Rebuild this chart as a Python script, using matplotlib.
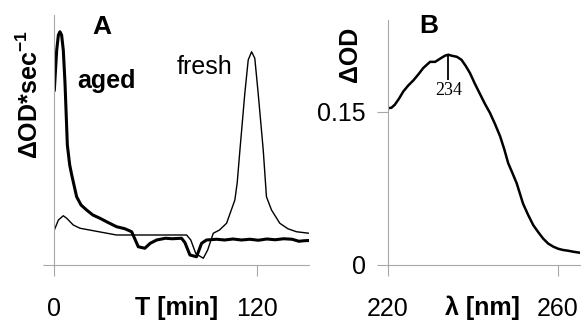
import matplotlib
matplotlib.use("Agg")
import matplotlib.pyplot as plt
import numpy as np

plt.rcParams['font.family'] = ['Liberation Sans', 'DejaVu Sans']
plt.rcParams['mathtext.default'] = 'regular'

# panel A: rate traces vs time (arbitrary units, axis top = 1)
t_aged = [0.2, 1.6, 2.6, 3.5, 4.5, 5.5, 6.5, 7.9, 9.3, 10.5, 13.4, 16, 19.3, 23, 27.2, 32, 37.1,
          42, 46.0, 49.9, 53.8, 57, 60.8, 66, 70, 75.5, 77.5, 80.5, 84.4, 87.4, 90.3, 96.3,
          101, 106, 111, 116, 121, 126, 131, 136, 141, 145, 148, 151]
v_aged = [0.70, 0.86, 0.92, 0.933, 0.92, 0.86, 0.73, 0.48, 0.40, 0.36, 0.273, 0.24, 0.22, 0.20,
          0.187, 0.17, 0.153, 0.145, 0.133, 0.073, 0.067, 0.087, 0.10, 0.107, 0.105, 0.107, 0.09,
          0.04, 0.033, 0.087, 0.10, 0.103, 0.100, 0.104, 0.100, 0.103, 0.099, 0.104,
          0.101, 0.105, 0.103, 0.095, 0.097, 0.098]

t_fresh = [0.2, 2.6, 5.5, 7.5, 11.4, 15.4, 25, 37, 41, 46.9, 60, 75, 78.5, 81, 84, 88.4, 91,
           94.3, 98, 102.2, 107.1, 108.5, 110.1, 113.0, 115.0, 117.0, 118.9, 120.9, 123.9, 125.8,
           128.8, 133.7, 138.5, 143.6, 151]
v_fresh = [0.14, 0.18, 0.197, 0.187, 0.16, 0.147, 0.135, 0.12, 0.12, 0.12, 0.12, 0.12, 0.12,
           0.10, 0.045, 0.027, 0.06, 0.127, 0.14, 0.167, 0.26, 0.33, 0.46, 0.687, 0.82, 0.853,
           0.827, 0.687, 0.46, 0.273, 0.22, 0.167, 0.145, 0.133, 0.127]

# panel B: difference spectrum
wl = [219.9, 220.8, 221.6, 222.6, 223.6, 224.8, 226.0, 227.2, 228.3, 229.9, 231.1, 232.6, 233.4,
      234.2, 235.0, 236.2, 237.3, 238.3, 239.3, 240.4, 241.6, 242.8, 244.0, 245.2, 246.4, 247.4,
      248.3, 249.3, 250.3, 251.8, 253.0, 254.2, 255.4, 256.5, 257.7, 258.9, 260.0, 261.2, 262.4,
      263.6, 265.2]
od = [0.1536, 0.154, 0.157, 0.163, 0.170, 0.176, 0.181, 0.187, 0.193, 0.199, 0.199, 0.203, 0.205,
      0.206, 0.205, 0.204, 0.201, 0.195, 0.188, 0.178, 0.168, 0.158, 0.149, 0.138, 0.126, 0.113,
      0.0997, 0.090, 0.080, 0.060, 0.049, 0.039, 0.032, 0.026, 0.021, 0.018, 0.016, 0.0147,
      0.014, 0.013, 0.012]

fig = plt.figure(figsize=(5.81, 3.22), dpi=100)
W, H = 581, 322
axA = fig.add_axes([54 / W, (H - 265) / H, (309 - 54) / W, 250 / H])
axB = fig.add_axes([388 / W, (H - 265) / H, (580 - 388) / W, 245 / H])

grey = '#a8a8a8'
for ax in (axA, axB):
    for s in ('top', 'right'):
        ax.spines[s].set_visible(False)
    for s in ('left', 'bottom'):
        ax.spines[s].set_color(grey)
        ax.spines[s].set_linewidth(0.8)
    ax.tick_params(direction='out', length=8, width=0.8, color=grey, labelsize=18, pad=15)

axA.plot(t_fresh, v_fresh, color='black', lw=1.0)
axA.plot(t_aged, v_aged, color='black', lw=2.2)
axA.set_xlim(0, 151)
axA.set_ylim(0, 1)
axA.set_xticks([0, 120])
axA.set_yticks([0])
axA.set_yticklabels([])
axA.set_xlabel('T [min]', fontsize=18, fontweight='bold', va='center')
axA.xaxis.set_label_coords(0.482, -0.172)
axA.set_ylabel(r'ΔOD*sec$^{-1}$', fontsize=18, fontweight='bold', va='center')
axA.yaxis.set_label_coords(-0.094, 0.68)
axA.text(0.186, 0.952, 'A', fontsize=19, fontweight='bold', transform=axA.transAxes,
         ha='center', va='center')
axA.text(0.092, 0.735, 'aged', fontsize=18, fontweight='bold', transform=axA.transAxes,
         ha='left', va='center')
axA.text(0.48, 0.79, 'fresh', fontsize=18, transform=axA.transAxes, ha='left', va='center')

axB.plot(wl, od, color='black', lw=1.8)
axB.set_xlim(220, 265.2)
axB.set_ylim(0, 0.24)
axB.set_xticks([220, 260])
axB.set_yticks([0, 0.15])
axB.set_yticklabels(['0', '0.15'])
axB.tick_params(axis='y', pad=8)
axB.set_xlabel('λ [nm]', fontsize=18, fontweight='bold', va='center')
axB.xaxis.set_label_coords(0.49, -0.176)
axB.set_ylabel('ΔOD', fontsize=18, fontweight='bold', va='center')
axB.yaxis.set_label_coords(-0.198, 0.86)
axB.text(0.214, 0.976, 'B', fontsize=19, fontweight='bold', transform=axB.transAxes,
         ha='center', va='center')

# peak marker
i = int(np.argmax(od))
axB.vlines(wl[i], od[i] - 0.0245, od[i], color='black', lw=1.3)
axB.text(wl[i], od[i] - 0.035, str(round(wl[i])), family='Liberation Serif', fontsize=13,
         ha='center', va='center')

fig.savefig('out.png', dpi=100)
